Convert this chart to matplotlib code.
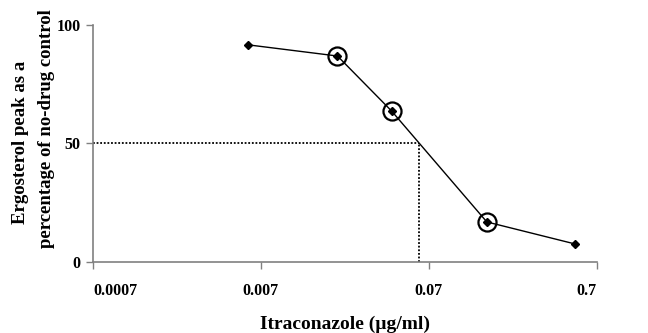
import matplotlib
matplotlib.use("Agg")
import matplotlib.pyplot as plt

# concentration (ug/ml) and ergosterol peak (% of no-drug control)
conc = [0.0059, 0.020, 0.042, 0.155, 0.52]
ergosterol = [91.6, 86.9, 63.7, 16.9, 7.6]
circled = [1, 2, 3]  # indices of points with a ring around them
ic50 = 0.061
xticks = [0.0007, 0.007, 0.07, 0.7]
xtick_labels = ["0.0007", "0.007", "0.07", "0.7"]
yticks = [0, 50, 100]

plt.rcParams['font.family'] = ['Liberation Serif', 'DejaVu Serif']
plt.rcParams['font.weight'] = 'bold'

fig = plt.figure(figsize=(6.48, 3.33), dpi=100)
ax = fig.add_axes([0.1435, 0.2132, 0.7775, 0.7118])

ax.set_xscale('log')
ax.set_xlim(0.0007, 0.7)
ax.set_ylim(0, 100)

# dotted guide lines at 50 %
ax.plot([0.0007, ic50], [50, 50], color='black', linestyle=(0, (1, 1)), lw=1.3, clip_on=False)
ax.plot([ic50, ic50], [0, 50], color='black', linestyle=(0, (1, 1)), lw=1.3, clip_on=False)

ax.plot(conc, ergosterol, color='black', lw=1, marker='D', ms=4.5, zorder=3)
ax.plot([conc[i] for i in circled], [ergosterol[i] for i in circled], linestyle='none',
        marker='o', ms=13, mfc='none', mec='black', mew=1.6, zorder=4)

ax.set_xticks(xticks)
ax.set_xticklabels(xtick_labels)
ax.minorticks_off()
ax.set_yticks(yticks)
labels = ax.get_xticklabels()
labels[0].set_ha('left')
labels[-1].set_ha('right')

for s in ['top', 'right']:
    ax.spines[s].set_visible(False)
for s in ['left', 'bottom']:
    ax.spines[s].set_color('#808080')
    ax.spines[s].set_linewidth(1.2)
ax.tick_params(axis='both', direction='out', length=5, width=1, color='#808080',
               labelsize=11.5)
ax.tick_params(axis='x', pad=10)
ax.tick_params(axis='y', pad=4)

ax.set_xlabel('Itraconazole (µg/ml)', fontsize=14, fontweight='bold', labelpad=12)

# two-line y label, lines placed separately as in the original
fig.text(21 / 648, 1 - 142 / 333, 'Ergosterol peak as a', rotation=90,
         ha='center', va='center', fontsize=13.5, fontweight='bold')
fig.text(47 / 648, 1 - 129 / 333, 'percentage of no-drug control', rotation=90,
         ha='center', va='center', fontsize=13.5, fontweight='bold')

fig.savefig('out.png', dpi=100)
